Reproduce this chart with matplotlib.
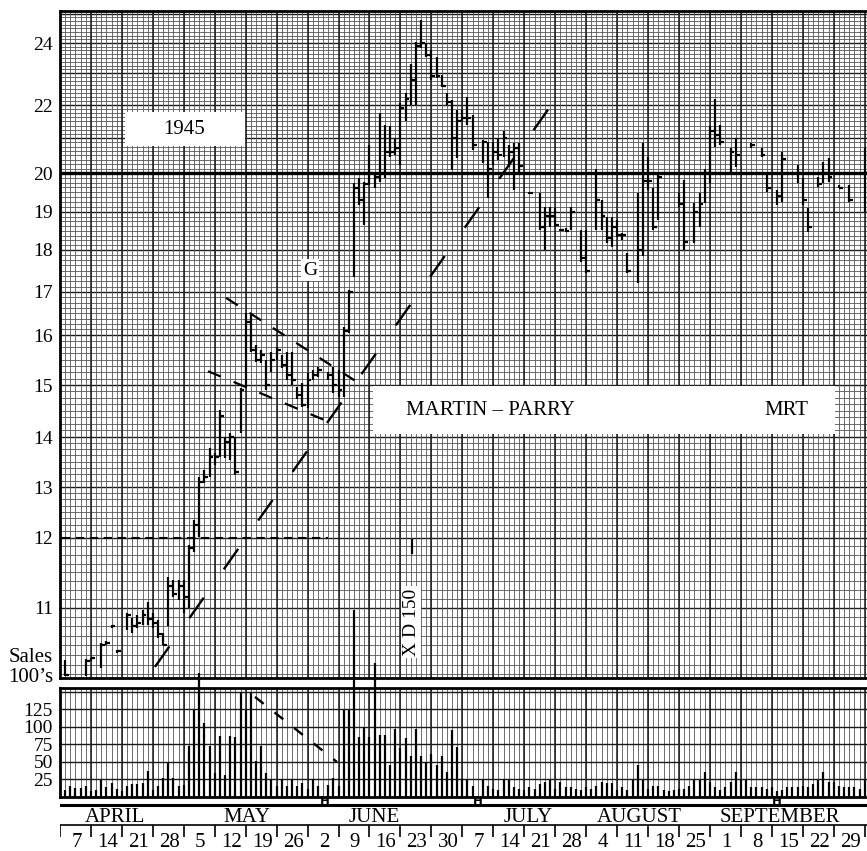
import numpy as np
import matplotlib
matplotlib.use("Agg")
import matplotlib.pyplot as plt
from matplotlib.patches import Rectangle
from matplotlib.lines import Line2D

plt.rcParams['font.family'] = ['Liberation Serif', 'DejaVu Serif']
plt.rcParams['lines.scale_dashes'] = False

# ---------------- data ----------------
# trading-day slot (6 per week, from Mon Apr 2 1945), high, low, close
bar_day = [0, 4, 5, 7, 8, 9, 10, 12, 13, 14, 15, 16, 17, 18, 19, 20, 21, 22, 23, 24, 25, 26, 27, 28, 29,
           30, 31, 32, 33, 34, 35, 36, 37, 38, 39, 40, 41, 42, 43, 44, 45, 46, 47, 48, 49, 51, 52, 53, 54, 55,
           56, 57, 58, 59, 60, 61, 62, 63, 64, 65, 66, 67, 68, 69, 70, 71, 72, 73, 74, 75, 76, 77, 78, 79,
           81, 82, 83, 84, 85, 86, 87, 88, 90, 92, 93, 94, 95, 96, 97, 98, 100, 101, 103, 104, 105, 106, 107,
           108, 109, 111, 112, 113, 114, 115, 119, 120, 122, 123, 124, 125, 126, 127, 129, 130, 133, 135, 136,
           138, 139, 142, 143, 144, 146, 147, 148, 150, 152, 155]
bar_high = [10.31, 10.32, 10.34, 10.53, 10.55, 10.77, 10.44, 10.93, 10.86, 10.90, 10.97, 11.08, 10.93, 10.84, 10.66,
            11.43, 11.39, 11.39, 11.39, 11.90, 12.34, 13.19, 13.33, 13.77, 13.67,
            14.51, 14.00, 14.07, 14.00, 14.95, 16.50, 16.45, 15.79, 15.69, 15.49, 15.65, 15.75, 15.59, 15.65, 15.65,
            14.96, 15.04, 15.23, 15.29, 15.35, 15.25, 15.35, 15.29, 16.18, 17.04,
            19.73, 19.86, 19.76, 20.80, 20.03, 21.75, 21.40, 21.35, 21.00, 22.06, 22.37, 23.30, 24.03, 24.78, 24.00,
            23.75, 23.53, 22.96, 22.37, 22.15, 21.84, 21.84, 22.25, 21.70,
            20.95, 20.90, 20.90, 21.00, 21.20, 20.80, 20.87, 20.87, 19.50, 19.48, 19.13, 19.13, 19.10, 18.55, 18.58,
            19.13, 18.52, 18.52, 20.12, 19.30, 18.87, 18.87, 18.78,
            18.44, 17.93, 19.48, 20.87, 20.46, 19.60, 20.00, 19.48, 19.81, 19.23, 19.48, 20.12, 21.35, 22.20, 21.40,
            20.72, 21.00, 20.87, 20.72, 19.94,
            19.55, 20.60, 20.23, 19.86, 19.10, 19.89, 20.31, 20.43, 19.68, 19.68, 20.72]
bar_low = [10.10, 10.10, 10.30, 10.21, 10.50, 10.73, 10.40, 10.70, 10.66, 10.73, 10.77, 10.77, 10.73, 10.60, 10.50,
           10.75, 11.15, 11.11, 10.93, 11.00, 11.80, 12.02, 13.08, 13.19, 13.43,
           13.59, 13.57, 13.53, 13.23, 14.07, 14.96, 15.65, 15.45, 15.43, 14.90, 15.25, 15.49, 15.33, 15.10, 15.00,
           14.73, 14.56, 14.54, 15.10, 15.15, 15.10, 14.84, 14.77, 14.77, 16.05,
           17.35, 19.18, 18.64, 19.68, 19.60, 19.76, 19.86, 20.46, 20.52, 20.23, 21.50, 22.00, 22.00, 23.82, 23.53,
           22.80, 22.86, 22.56, 22.00, 20.08, 20.43, 21.50, 21.40, 20.66,
           20.28, 19.35, 20.23, 20.37, 20.46, 20.17, 19.55, 20.00, 19.45, 18.52, 18.00, 18.60, 18.60, 18.50, 18.47,
           18.52, 17.70, 17.44, 18.52, 18.52, 18.18, 18.08, 18.33,
           18.26, 17.44, 17.21, 17.85, 19.55, 18.52, 18.78, 19.13, 18.00, 18.18, 18.60, 19.23, 19.73, 20.75, 20.80,
           20.00, 20.17, 20.72, 20.46, 19.50,
           19.18, 19.25, 19.73, 19.18, 18.47, 19.63, 19.73, 19.76, 19.60, 19.25, 19.00]
bar_close = [10.12, 10.30, 10.33, 10.50, 10.53, 10.75, 10.42, 10.90, 10.75, 10.80, 10.90, 10.85, 10.80, 10.65, 10.50,
             11.30, 11.20, 11.30, 11.15, 11.85, 12.25, 13.10, 13.20, 13.60, 13.60,
             14.40, 13.90, 14.00, 13.30, 14.90, 16.30, 15.70, 15.50, 15.60, 15.00, 15.50, 15.70, 15.40, 15.20, 15.10,
             14.80, 14.60, 15.10, 15.20, 15.30, 15.20, 15.00, 14.90, 16.10, 17.00,
             19.60, 19.30, 19.70, 20.00, 19.90, 20.00, 20.60, 20.60, 20.70, 21.90, 22.20, 22.80, 23.90, 24.00, 23.60,
             22.90, 22.90, 22.60, 22.10, 21.00, 21.50, 21.60, 21.60, 20.80,
             20.90, 20.10, 20.60, 20.50, 21.00, 20.60, 20.70, 20.20, 19.48, 18.60, 18.90, 18.90, 18.65, 18.52, 18.50,
             19.00, 17.80, 17.50, 19.30, 18.90, 18.30, 18.60, 18.40,
             18.40, 17.50, 18.00, 19.80, 19.80, 18.60, 19.90, 19.20, 18.20, 19.00, 19.20, 20.00, 21.20, 21.10, 20.90,
             20.60, 20.50, 20.80, 20.50, 19.60,
             19.40, 20.40, 20.00, 19.30, 18.60, 19.70, 20.00, 19.90, 19.60, 19.30, 20.00]

# daily sales in 100's of shares, one per slot (0 = holiday)
volume = [10, 15, 13, 13, 16, 8, 10, 24, 14, 20, 11, 8, 16, 18, 18, 20, 37, 10, 15, 27,
          48, 27, 15, 17, 73, 124, 177, 106, 73, 34, 87, 32, 87, 86, 150, 124, 150, 51, 73, 34,
          26, 15, 26, 15, 26, 16, 20, 12, 26, 16, 0, 17, 27, 15, 124, 124, 267, 86, 100, 86,
          191, 89, 89, 46, 97, 70, 84, 59, 97, 58, 50, 62, 46, 59, 35, 95, 72, 25, 25, 15,
          0, 24, 15, 12, 10, 25, 24, 14, 12, 10, 14, 12, 19, 22, 24, 12, 22, 14, 14, 12,
          10, 14, 12, 16, 22, 20, 20, 10, 14, 10, 24, 46, 24, 12, 16, 16, 10, 8, 10, 12,
          12, 16, 24, 24, 36, 22, 14, 10, 14, 22, 35, 24, 24, 14, 14, 14, 12, 14, 8, 10,
          14, 14, 14, 16, 14, 19, 24, 35, 22, 22, 16, 14, 14, 14, 12, 24]

price_ticks = [11, 12, 13, 14, 15, 16, 17, 18, 19, 20, 22, 24]
volume_ticks = [25, 50, 75, 100, 125]
months = ["APRIL", "MAY", "JUNE", "JULY", "AUGUST", "SEPTEMBER"]
week_labels = ["7", "14", "21", "28", "5", "12", "19", "26", "2", "9", "16", "23", "30",
               "7", "14", "21", "28", "4", "11", "18", "25", "1", "8", "15", "22", "29"]
holiday_marks = [51.4, 81.0, 139.0]

# trend lines (slot, price)
trend_up_x, trend_up_p = [18.4, 94.8], [10.22, 21.9]
flag_top_x, flag_top_p = [32.2, 58.5], [16.86, 15.0]
flag_bot_x, flag_bot_p = [28.7, 52.7], [15.27, 14.26]
level_x, level_p = [0.4, 52.0], [12.0, 12.0]
vol_line_x, vol_line_v = [37.8, 53.7], [143, 50]

# ---------------- layout ----------------
W, H = 867, 851
fig = plt.figure(figsize=(W / 100, H / 100), dpi=100)
fig.patch.set_facecolor('white')
NSLOT = 156.45


def frac(x0, y0, x1, y1):
    return [x0 / W, 1 - y1 / H, (x1 - x0) / W, (y1 - y0) / H]


# price scale (chart-paper ratio scale)
sc_p = np.array([5, 10.08, 11, 12, 13, 14, 15, 16, 17, 18, 19, 20, 22, 24, 25.1, 50])
sc_y = np.array([1242, 678, 608, 538, 487, 437, 385, 335, 292, 250, 212, 173, 105, 43, 11, -481], float)


def fwd(p):
    p = np.clip(np.asarray(p, float), 1e-6, None)
    return -np.interp(np.log(p), np.log(sc_p), sc_y)


def inv(v):
    return np.exp(np.interp(np.asarray(v, float), -sc_y, np.log(sc_p)))


GRID_FINE = '#555555'
GRID_HEAVY = '#1a1a1a'

ax = fig.add_axes(frac(60, 11, W, 678))
ax.set_yscale('function', functions=(fwd, inv))
ax.set_xlim(0, NSLOT)
ax.set_ylim(10.08, 25.1)

fine_p = np.arange(10.125, 25.01, 0.125)
ax.hlines(fine_p, 0, 1, transform=ax.get_yaxis_transform(), colors=GRID_FINE, lw=0.6, zorder=1)
ax.hlines(np.arange(11, 26), 0, 1, transform=ax.get_yaxis_transform(), colors=GRID_HEAVY, lw=1.0, zorder=1)
ax.vlines(np.arange(0, 157), 0, 1, transform=ax.get_xaxis_transform(), colors=GRID_FINE, lw=0.6, zorder=1)
ax.vlines(np.arange(0, 157, 6), 0, 1, transform=ax.get_xaxis_transform(), colors=GRID_HEAVY, lw=1.1, zorder=1)
ax.axhline(20, color='black', lw=2.4, zorder=2)

bx = np.array(bar_day) + 1.0
ax.vlines(bx, bar_low, bar_high, colors='black', lw=1.6, zorder=4)
ax.hlines(bar_close, bx, bx + 0.75, colors='black', lw=1.6, zorder=4)

ax.plot(trend_up_x, trend_up_p, color='black', lw=1.7, ls=(0, (18, 25)), zorder=4)
ax.plot(flag_top_x, flag_top_p, color='black', lw=1.6, ls=(0, (10, 10)), zorder=4)
ax.plot(flag_bot_x, flag_bot_p, color='black', lw=1.6, ls=(0, (10, 10)), zorder=4)
ax.plot(level_x, level_p, color='black', lw=1.5, ls=(0, (6, 4)), zorder=4)

ax.set_yticks(price_ticks)
ax.set_yticklabels([str(t) for t in price_ticks], fontsize=14)
ax.yaxis.set_minor_locator(matplotlib.ticker.NullLocator())
ax.tick_params(axis='y', length=0, pad=5)
ax.set_xticks([])
for s in ['left', 'top', 'bottom']:
    ax.spines[s].set_linewidth(2)
ax.spines['right'].set_visible(False)

# volume panel
axv = fig.add_axes(frac(60, 688, W, 797))
axv.set_xlim(0, NSLOT)
axv.set_ylim(0, 155.7)
axv.vlines(np.arange(0, 157), 0, 1, transform=axv.get_xaxis_transform(), colors=GRID_FINE, lw=0.6, zorder=1)
axv.vlines(np.arange(0, 157, 6), 0, 1, transform=axv.get_xaxis_transform(), colors=GRID_HEAVY, lw=1.1, zorder=1)
axv.hlines(np.arange(25, 151, 25), 0, 1, transform=axv.get_yaxis_transform(), colors=GRID_HEAVY, lw=1.0, zorder=1)
vx = np.arange(len(volume)) + 1.0
vv = np.array(volume, float)
m = vv > 0
axv.vlines(vx[m], 0, vv[m], colors='black', lw=1.6, zorder=4, clip_on=False)
axv.plot(vol_line_x, vol_line_v, color='black', lw=1.7, ls=(0, (8, 10)), zorder=4)
axv.set_yticks(volume_ticks)
axv.set_yticklabels([str(t) for t in volume_ticks], fontsize=14)
axv.tick_params(axis='y', length=0, pad=5)
axv.set_xticks([])
for s in ['left', 'top', 'bottom']:
    axv.spines[s].set_linewidth(2)
axv.spines['right'].set_visible(False)

# date band (y in pixel units)
axd = fig.add_axes(frac(60, 797, W, H))
axd.set_xlim(0, NSLOT)
axd.set_ylim(H, 797)
axd.axis('off')
axd.axhline(805, color='black', lw=2.2, zorder=2)
axd.axhline(825, color='black', lw=1.2)
axd.vlines(np.arange(0, 157, 6), 825, 837, colors='black', lw=1.2)
month_x = [10.7, 36.3, 61.0, 90.7, 112.4, 139.6]
for name, mx in zip(months, month_x):
    axd.text(mx, 817.5, name, ha='center', va='center', fontsize=15)
for k, lab in enumerate(week_labels):
    axd.text(6 * k + 3.2, 842.5, lab, ha='center', va='center', fontsize=15)
for hx in holiday_marks:
    axd.text(hx, 801.5, 'H', ha='center', va='center', fontsize=8.5, fontweight='bold',
             family='DejaVu Sans', zorder=3)

# annotations
def px(x, y):
    return x / W, 1 - y / H

fig.add_artist(Rectangle(px(125, 146), 120 / W, 34 / H, transform=fig.transFigure,
                         fc='white', ec='none', zorder=5))
fig.text(*px(184, 129), '1945', ha='center', va='center', fontsize=15, zorder=6)
fig.add_artist(Rectangle(px(373, 434), 462 / W, 48 / H, transform=fig.transFigure,
                         fc='white', ec='none', zorder=5))
fig.text(*px(490, 411), 'MARTIN – PARRY', ha='center', va='center', fontsize=15, zorder=6)
fig.text(*px(786, 411), 'MRT', ha='center', va='center', fontsize=15, zorder=6)
fig.text(*px(310, 270), 'G', ha='center', va='center', fontsize=14, zorder=6,
         bbox=dict(boxstyle='square,pad=0.12', fc='white', ec='none'))
fig.text(*px(411, 622), 'X D 150', ha='center', va='center', fontsize=14, rotation=90, zorder=6,
         bbox=dict(boxstyle='square,pad=0.1', fc='white', ec='none'))
fig.add_artist(Line2D([412 / W, 412 / W], [1 - 553 / H, 1 - 540 / H], transform=fig.transFigure,
                      color='black', lw=1.6, zorder=6))
fig.text(*px(53, 657), 'Sales', ha='right', va='center', fontsize=15)
fig.text(*px(53, 677), "100’s", ha='right', va='center', fontsize=15)

fig.savefig('out.png', dpi=100, facecolor='white')
